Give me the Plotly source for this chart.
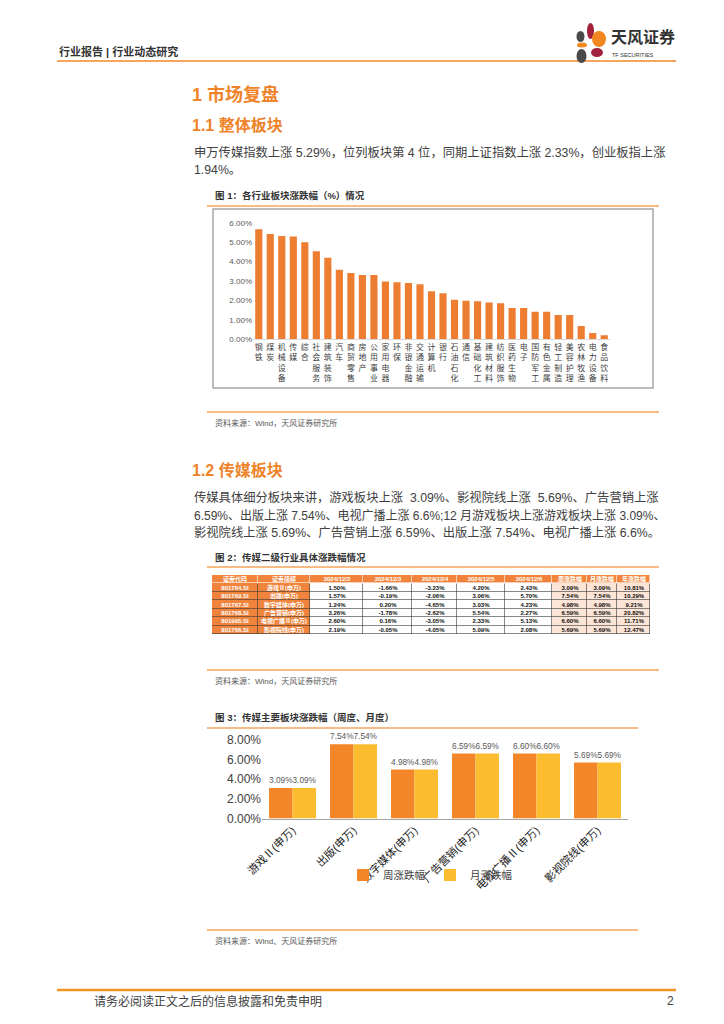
import plotly.graph_objects as go

# ---------------- data ----------------
industries = ["钢铁", "煤炭", "机械设备", "传媒", "综合", "社会服务", "建筑装饰", "汽车", "商贸零售",
              "房地产", "公用事业", "家用电器", "环保", "非银金融", "交通运输", "计算机", "银行",
              "石油石化", "通信", "基础化工", "建筑材料", "纺织服饰", "医药生物", "电子", "国防军工",
              "有色金属", "轻工制造", "美容护理", "农林牧渔", "电力设备", "食品饮料"]
industry_changes = [5.66, 5.42, 5.32, 5.29, 4.99, 4.53, 4.20, 3.58, 3.41,
                    3.31, 3.31, 2.98, 2.93, 2.90, 2.83, 2.47, 2.37,
                    2.04, 1.99, 1.96, 1.90, 1.85, 1.61, 1.61, 1.42,
                    1.42, 1.25, 1.25, 0.69, 0.33, 0.21]
ytick_vals1 = [0, 1, 2, 3, 4, 5, 6]
ytick_text1 = ["0.00%", "1.00%", "2.00%", "3.00%", "4.00%", "5.00%", "6.00%"]

table_headers = ["证券代码", "证券简称", "2024/12/2", "2024/12/3", "2024/12/4", "2024/12/5",
                 "2024/12/6", "周涨跌幅", "月涨跌幅", "年涨跌幅"]
table_col_widths = [46, 52, 53, 49, 45, 48, 47, 35, 30, 33]
codes = ["801764.SI", "801769.SI", "801767.SI", "801768.SI", "801995.SI", "801766.SI"]
names = ["游戏Ⅱ(申万)", "出版(申万)", "数字媒体(申万)", "广告营销(申万)", "电视广播Ⅱ(申万)", "影视院线(申万)"]
d1202 = ["1.50%", "1.57%", "1.24%", "3.26%", "2.60%", "2.19%"]
d1203 = ["-1.66%", "-0.19%", "0.20%", "-1.78%", "0.16%", "-0.05%"]
d1204 = ["-3.23%", "-2.06%", "-4.65%", "-2.62%", "-3.05%", "-4.05%"]
d1205 = ["4.20%", "3.06%", "3.03%", "5.54%", "2.33%", "5.09%"]
d1206 = ["2.43%", "5.70%", "4.23%", "2.27%", "5.13%", "2.08%"]
week_chg = ["3.09%", "7.54%", "4.98%", "6.59%", "6.60%", "5.69%"]
month_chg = ["3.09%", "7.54%", "4.98%", "6.59%", "6.60%", "5.69%"]
year_chg = ["10.81%", "10.29%", "9.21%", "20.82%", "11.71%", "12.47%"]

sectors3 = ["游戏Ⅱ(申万)", "出版(申万)", "数字媒体(申万)", "广告营销(申万)", "电视广播Ⅱ(申万)", "影视院线(申万)"]
weekly3 = [3.09, 7.54, 4.98, 6.59, 6.60, 5.69]
monthly3 = [3.09, 7.54, 4.98, 6.59, 6.60, 5.69]
series_names3 = ["周涨跌幅", "月涨跌幅"]
ytick_vals3 = [0, 2, 4, 6, 8]
ytick_text3 = ["0.00%", "2.00%", "4.00%", "6.00%", "8.00%"]

# ---------------- helpers ----------------
W, H = 724, 1024
FONT = "Liberation Sans, Noto Sans CJK SC, sans-serif"
ORANGE_H = "#EE8329"
TXT = "#404040"


def px(x):
    return x / W


def py(y):
    return 1 - y / H


fig = go.Figure()

# Chart 1
fig.add_trace(go.Bar(
    x=industries, y=industry_changes, marker=dict(color="#ED7D31", line=dict(width=0)),
    width=0.62, showlegend=False, xaxis="x", yaxis="y", hoverinfo="x+y"))

# Chart 3
fig.add_trace(go.Bar(
    x=sectors3, y=weekly3, name=series_names3[0], marker=dict(color="#F4862A", line=dict(width=0)),
    width=0.385, offset=-0.385, xaxis="x2", yaxis="y2",
    texttemplate="%{y:.2f}%", textposition="outside", cliponaxis=False,
    textfont=dict(size=9, color="#595959", family=FONT)))
fig.add_trace(go.Bar(
    x=sectors3, y=monthly3, name=series_names3[1], marker=dict(color="#FBBC2F", line=dict(width=0)),
    width=0.385, offset=0, xaxis="x2", yaxis="y2",
    texttemplate="%{y:.2f}%", textposition="outside", cliponaxis=False,
    textfont=dict(size=9, color="#595959", family=FONT)))

# Table (chart 2) drawn as a heatmap grid
columns = [codes, names, d1202, d1203, d1204, d1205, d1206, week_chg, month_chg, year_chg]
n_rows = len(codes) + 1
n_cols = len(table_headers)
x_edges = [0]
for w in table_col_widths:
    x_edges.append(x_edges[-1] + w)
y_edges = list(range(n_rows + 1))

# colour class: 0 orange, 1 white, 2 peach
z_orange, z_other, t_orange, t_other = [], [], [], []
for r in range(n_rows):
    zo, zt, to, tt = [], [], [], []
    for c in range(n_cols):
        val = table_headers[c] if r == 0 else columns[c][r - 1]
        if r == 0 or c < 2:
            zo.append(0); zt.append(None); to.append(val); tt.append("")
        else:
            zo.append(None); zt.append(1 if c < 7 else 2); to.append(""); tt.append(val)
    z_orange.append(zo); z_other.append(zt); t_orange.append(to); t_other.append(tt)

cscale = [[0, "#F0843C"], [0.5, "#FFFFFF"], [1, "#FCE4D6"]]
for z, t, col in [(z_orange, t_orange, "#FFFFFF"), (z_other, t_other, "#111111")]:
    fig.add_trace(go.Heatmap(
        x=x_edges, y=y_edges, z=z, text=t, texttemplate="<b>%{text}</b>",
        textfont=dict(size=6, color=col, family=FONT),
        colorscale=cscale, zmin=0, zmax=2, showscale=False, xgap=0.6, ygap=0.6,
        hoverinfo="skip", xaxis="x3", yaxis="y3"))

shapes = []
annotations = []

# dark grid behind body rows of the table
shapes.append(dict(type="rect", xref="x3", yref="y3", x0=x_edges[0], x1=x_edges[-1],
                   y0=1, y1=n_rows, fillcolor="#3A3A3A", line=dict(width=0), layer="below"))


def hline(x0, x1, y, color, w):
    shapes.append(dict(type="line", xref="paper", yref="paper", x0=px(x0), x1=px(x1),
                       y0=py(y), y1=py(y), line=dict(color=color, width=w)))


def text(x, y, s, size, color=TXT, bold=False, anchor="left"):
    if bold:
        s = "<b>" + s + "</b>"
    annotations.append(dict(x=px(x), y=py(y), xref="paper", yref="paper", text=s, showarrow=False,
                            xanchor=anchor, yanchor="middle",
                            font=dict(size=size, color=color, family=FONT)))


def ellipse(cx, cy, rx, ry, color):
    shapes.append(dict(type="circle", xref="paper", yref="paper",
                       x0=px(cx - rx), x1=px(cx + rx), y0=py(cy + ry), y1=py(cy - ry),
                       fillcolor=color, line=dict(width=0)))


# header
text(57, 51, "行业报告 | 行业动态研究", 11, "#333333", bold=True)
hline(57, 676, 61, "#F7A45C", 2)
ellipse(590.5, 31, 3.5, 8, "#A3203A")
ellipse(580.5, 36.5, 4, 5.5, "#4A4A4A")
ellipse(599, 39, 7, 8, "#F0871F")
ellipse(582, 45, 5, 2.5, "#F0871F")
ellipse(581.5, 56, 5, 7, "#4A4A4A")
ellipse(597, 52.5, 6, 4.5, "#A3203A")
text(609, 37, "天风证券", 16, "#333333", bold=True)
text(610, 55, "TF SECURITIES", 5.5, "#333333")

# section 1
text(190, 94, "1 市场复盘", 18, ORANGE_H, bold=True)
text(190, 125, "1.1 整体板块", 16, ORANGE_H, bold=True)
text(192, 152, "申万传媒指数上涨 5.29%，位列板块第 4 位，同期上证指数上涨 2.33%，创业板指上涨", 12.3, TXT)
text(192, 170, "1.94%。", 12.3, TXT)
text(213, 195, "图 1：各行业板块涨跌幅（%）情况", 9.5, "#333333", bold=True)
hline(207, 659, 206, "#F7A45C", 1.5)
shapes.append(dict(type="rect", xref="paper", yref="paper", x0=px(213), x1=px(653), y0=py(388), y1=py(209),
                   line=dict(color="#A6A6A6", width=1.5)))
hline(207, 659, 412, "#F7A45C", 1.5)
text(213, 423, "资料来源：Wind，天风证券研究所", 8, "#595959")

# section 1.2
text(190, 470, "1.2 传媒板块", 16, ORANGE_H, bold=True)
text(192, 497, "传媒具体细分板块来讲，游戏板块上涨  3.09%、影视院线上涨  5.69%、广告营销上涨", 12.3, TXT)
text(192, 515, "6.59%、出版上涨 7.54%、电视广播上涨 6.6%;12 月游戏板块上涨游戏板块上涨 3.09%、", 12.0, TXT)
text(192, 532, "影视院线上涨 5.69%、广告营销上涨 6.59%、出版上涨 7.54%、电视广播上涨 6.6%。", 12.3, TXT)
text(213, 557, "图 2：传媒二级行业具体涨跌幅情况", 9.5, "#333333", bold=True)
hline(207, 659, 567, "#F7A45C", 1.5)
hline(207, 659, 670, "#F7A45C", 1.5)
text(213, 681, "资料来源：Wind，天风证券研究所", 8, "#595959")

text(213, 717, "图 3：传媒主要板块涨跌幅（周度、月度）", 9.5, "#333333", bold=True)
hline(207, 638, 728, "#F7A45C", 1.5)
hline(207, 638, 930, "#F7A45C", 1.5)
text(213, 941, "资料来源：Wind、天风证券研究所", 8, "#595959")

# footer
hline(57, 676, 990, "#F39422", 2.5)
text(92, 1001, "请务必阅读正文之后的信息披露和免责申明", 12, "#404040")
text(676, 1001, "2", 12, "#404040", anchor="right")

fig.update_layout(
    width=W, height=H, margin=dict(l=0, r=0, t=0, b=0, pad=0, autoexpand=False),
    paper_bgcolor="white", plot_bgcolor="white",
    barmode="overlay", font=dict(family=FONT, color=TXT),
    showlegend=True,
    legend=dict(orientation="h", x=px(343), y=py(875), xanchor="left", yanchor="middle",
                bgcolor="rgba(0,0,0,0)", font=dict(size=10.5, color="#404040", family=FONT),
                itemwidth=30, tracegroupgap=0, traceorder="normal"),
    xaxis=dict(domain=[px(253), px(610)], range=[-0.5, len(industries) - 0.5],
               tickmode="array", tickvals=industries,
               ticktext=["<br>".join(list(s)) for s in industries], tickangle=0,
               tickfont=dict(size=8, color="#404040", family=FONT),
               showline=True, linecolor="#D9D9D9", linewidth=1, ticks="", showgrid=False,
               zeroline=False, anchor="y", automargin=False),
    yaxis=dict(domain=[py(339.3), py(222.7)], range=[0, 6], tickmode="array",
               tickvals=ytick_vals1, ticktext=ytick_text1,
               tickfont=dict(size=8, color="#595959", family=FONT),
               showgrid=False, zeroline=False, showline=False, ticks="", anchor="x", automargin=False),
    xaxis2=dict(domain=[px(262), px(628)], range=[-0.5, len(sectors3) - 0.5],
                tickangle=-45, tickfont=dict(size=11, color="#1A1A1A", family=FONT),
                showline=True, linecolor="#A6A6A6", linewidth=1.2, ticks="", showgrid=False,
                zeroline=False, anchor="y2", automargin=False),
    yaxis2=dict(domain=[py(818.5), py(739.6)], range=[0, 8], tickmode="array",
                tickvals=ytick_vals3, ticktext=ytick_text3,
                tickfont=dict(size=12, color="#404040", family=FONT),
                showgrid=False, zeroline=False, showline=False, ticks="", anchor="x2", automargin=False),
    xaxis3=dict(domain=[px(212), px(650)], range=[x_edges[0], x_edges[-1]], visible=False,
                anchor="y3", fixedrange=True),
    yaxis3=dict(domain=[py(634), py(575)], range=[n_rows, 0], visible=False,
                anchor="x3", fixedrange=True),
    shapes=shapes, annotations=annotations,
)

fig.write_html("out.html", config={"displayModeBar": False},
               post_script="document.body.style.margin='0';document.body.style.overflow='hidden';")
